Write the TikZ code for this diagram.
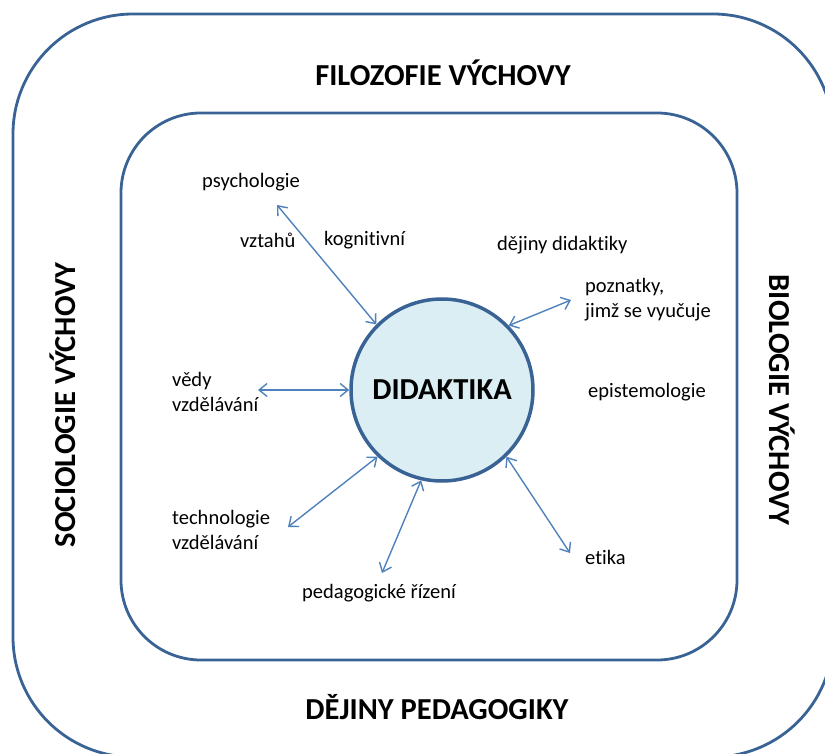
\documentclass[tikz,border=0pt]{standalone}
\usepackage{fontspec}
\setmainfont{Carlito}[Ligatures=NoCommon]
\usetikzlibrary{arrows.meta,positioning}
\definecolor{dkblue}{HTML}{3A6395}
\definecolor{arrblue}{HTML}{4F81BD}
\definecolor{lightfill}{HTML}{DBEEF4}
\tikzset{
  frame/.style={draw=dkblue,line width=2.8pt,rounded corners=#1},
  heading/.style={font=\fontsize{30.5}{36}\selectfont\bfseries},
  lab/.style={font=\fontsize{20.5}{25}\selectfont,anchor=west,align=left,inner sep=0pt},
  link/.style={draw=arrblue,line width=1.4pt,
    {Straight Barb[length=8pt,width=13pt]}-{Straight Barb[length=8pt,width=13pt]}},
}
\begin{document}
\begin{tikzpicture}[x=1pt,y=-1pt]
\useasboundingbox (0,0) rectangle (825,754);
\clip (0,0) rectangle (825,754);
%% outer and inner frames
\draw[frame=120pt] (13,14) rectangle (833,757);
\draw[frame=80pt] (121,113) rectangle (737,660);
%% headings of the outer ring
\node[heading] (filo) at (443,73) {FILOZOFIE VÝCHOVY};
\node[heading] (dejped) at (437,707) {DĚJINY PEDAGOGIKY};
\node[heading,rotate=90] (socio) at (63,405) {SOCIOLOGIE VÝCHOVY};
\node[heading,rotate=-90] (bio) at (782,400) {BIOLOGIE VÝCHOVY};
%% centre
\node[circle,draw=dkblue,line width=3.5pt,fill=lightfill,minimum size=182pt,
  inner sep=0pt,heading] (did) at (442,390) {DIDAKTIKA};
%% labels in the inner frame
\node[lab] (psy) at (202,182) {psychologie};
\node[lab] (vzt) at (240,240) {vztahů};
\node[lab] (kog) at (324,240) {kognitivní};
\node[lab] (dejdid) at (497,245) {dějiny didaktiky};
\node[lab] (pozn) at (585,300) {poznatky,\\jimž se vyučuje};
\node[lab] (epi) at (588,392) {epistemologie};
\node[lab] (vedy) at (172,392) {vědy\\vzdělávání};
\node[lab] (tech) at (172,530) {technologie\\vzdělávání};
\node[lab] (ped) at (302,593) {pedagogické řízení};
\node[lab] (eti) at (585,557) {etika};
%% free ends of the arrows
\coordinate (psyE) at (277,205);
\coordinate (poznE) at (571,300);
\coordinate (vedyE) at (258,390);
\coordinate (techE) at (288,527);
\coordinate (pedE) at (382,573);
\coordinate (etiE) at (570,553);
\foreach \ang/\pt in {135/psyE,44/poznE,180/vedyE,226/techE,257/pedE,314/etiE}
  \draw[link] (\pt) -- (did.\ang);
\end{tikzpicture}
\end{document}
